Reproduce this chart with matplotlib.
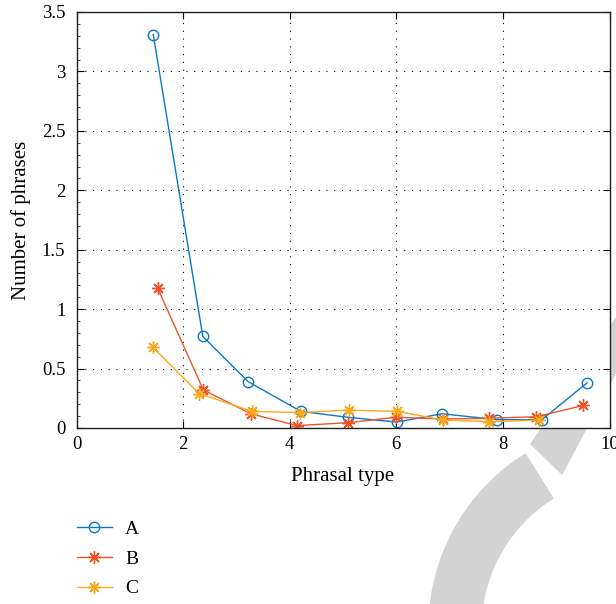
import numpy as np
import matplotlib.pyplot as plt
from matplotlib.patches import Wedge, Polygon
from matplotlib.transforms import Affine2D
from matplotlib.ticker import MultipleLocator

plt.rcParams['font.family'] = ['Liberation Serif', 'DejaVu Serif']
plt.rcParams['font.size'] = 12

# series values
x_a = [1.44, 2.37, 3.22, 4.21, 5.09, 6.01, 6.86, 7.89, 8.73, 9.58]
y_a = [3.31, 0.77, 0.39, 0.14, 0.09, 0.05, 0.12, 0.07, 0.07, 0.38]

x_b = [1.52, 2.38, 3.27, 4.14, 5.10, 5.99, 6.87, 7.74, 8.63, 9.51]
y_b = [1.18, 0.32, 0.12, 0.02, 0.045, 0.09, 0.076, 0.082, 0.095, 0.19]

x_c = [1.43, 2.30, 3.29, 4.19, 5.11, 6.02, 6.88, 7.74, 8.68]
y_c = [0.68, 0.29, 0.14, 0.13, 0.15, 0.14, 0.067, 0.053, 0.067]

labels = ['A', 'B', 'C']
colors = ['#0A78C8', '#EE5428', '#F9A91C']
ytick_labels = ['0', '0.5', '1', '1.5', '2', '2.5', '3', '3.5']

W, H = 616, 604
fig = plt.figure(figsize=(W / 100, H / 100), dpi=100)

# grey publisher watermark (figure pixel space, behind the axes)
px = Affine2D().scale(1 / W, 1 / H) + fig.transFigure
fig.patches.append(Wedge((634, H - 628), 205, 122, 215, width=52,
                         color='#d3d3d3', transform=px, zorder=-1))
fig.patches.append(Polygon([(616, H - 318), (531, H - 444), (562, H - 474), (616, H - 372)],
                           closed=True, color='#d3d3d3', transform=px, zorder=-1))

ax = fig.add_axes([76.5 / W, 1 - 428 / H, 533 / W, 416 / H])
ax.set_facecolor('white')

ax.plot(x_a, y_a, color=colors[0], lw=1.0, marker='o', ms=7.5, mfc='none',
        mew=1.0, label=labels[0])
ax.plot(x_b, y_b, color=colors[1], lw=1.0, marker=(8, 2, 0), ms=9,
        mew=1.0, label=labels[1])
ax.plot(x_c, y_c, color=colors[2], lw=1.0, marker=(8, 2, 0), ms=9,
        mew=1.0, label=labels[2])

ax.set_xlim(0, 10)
ax.set_ylim(0, 3.5)
ax.xaxis.set_major_locator(MultipleLocator(2))
ax.yaxis.set_minor_locator(MultipleLocator(0.1))
ax.set_yticks(np.arange(0, 3.51, 0.5))
ax.set_yticklabels(ytick_labels)
ax.tick_params(direction='in', top=True, right=True, length=5, width=0.8,
               labelsize=13.5)
ax.tick_params(axis='y', pad=8)
ax.tick_params(axis='x', pad=6)
ax.tick_params(which='minor', direction='in', left=True, right=False,
               length=2, width=0.5)
ax.grid(True, which='major', color='black', linestyle=(0, (1, 6)), lw=0.8)
for s in ax.spines.values():
    s.set_linewidth(1.0)
    s.set_color('#222222')

ax.set_xlabel('Phrasal type', fontsize=15, labelpad=10)
ax.set_ylabel('Number of phrases', fontsize=15, labelpad=8)

fig.legend(loc='upper left', bbox_to_anchor=(59 / W, 1 - 503 / H),
           frameon=False, fontsize=14, handlelength=1.85, handletextpad=0.65,
           labelspacing=0.62)

fig.savefig('out.png', dpi=100)
